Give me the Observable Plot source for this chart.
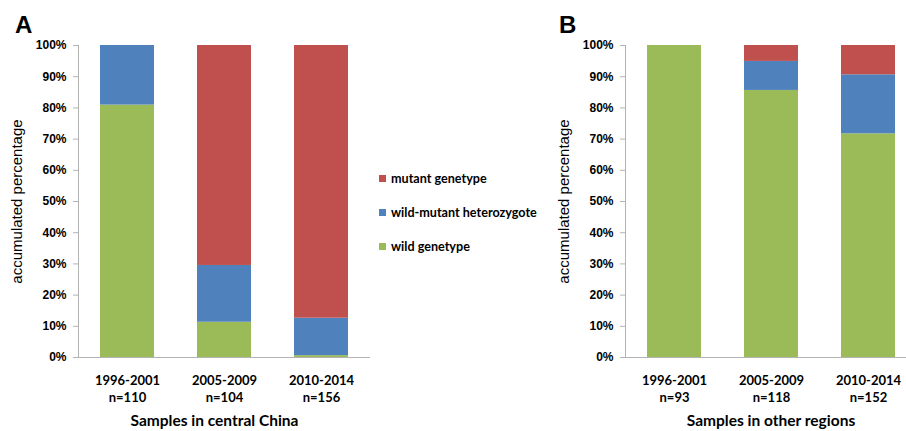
<!DOCTYPE html>
<html>
<head>
<meta charset="utf-8">
<script src="https://cdn.jsdelivr.net/npm/d3@7"></script>
<script src="https://cdn.jsdelivr.net/npm/@observablehq/plot@0.6"></script>
<style>
  html, body { margin: 0; padding: 0; background: #fff; overflow: hidden; }
  #root { position: relative; width: 906px; height: 431px; overflow: hidden; background: #fff; }
  .panel { position: absolute; top: 0; }
  .panel svg { max-width: none !important; }
  .letter { position: absolute; font-family: "Liberation Sans", Arial, sans-serif; font-weight: bold; font-size: 24px; color: #000; line-height: 1; }
  .legend { position: absolute; left: 379px; top: 0; font-family: Lato, sans-serif; font-weight: bold; font-size: 12.6px; color: #000; }
  .legend .row { position: absolute; white-space: nowrap; display: flex; align-items: center; height: 14px; }
  .legend .sw { width: 7px; height: 7px; margin-right: 5px; }
</style>
</head>
<body>
<div id="root">
  <div id="panelA" class="panel" style="left:0px; width:372px"></div>
  <div id="panelB" class="panel" style="left:540px; width:378px"></div>
  <div class="letter" style="left:15px; top:13px">A</div>
  <div class="letter" style="left:559px; top:13px">B</div>
  <div class="legend" id="legend"></div>
</div>
<script>
const categories = ["1996-2001", "2005-2009", "2010-2014"];
const genotypes = ["wild genetype", "wild-mutant heterozygote", "mutant genetype"];
const colors = ["#9BBB59", "#4F81BD", "#C0504D"];
const yTicks = [0, 10, 20, 30, 40, 50, 60, 70, 80, 90, 100];

// Panel A: central China (percent)
const nA = [110, 104, 156];
const wildA = [80.9, 11.3, 0.6];
const hetA = [19.1, 18.2, 12.0];
const mutA = [0, 70.5, 87.4];
const titleA = "Samples in central China";

// Panel B: other regions (percent)
const nB = [93, 118, 152];
const wildB = [100, 85.6, 71.7];
const hetB = [0, 9.3, 18.9];
const mutB = [0, 5.1, 9.4];
const titleB = "Samples in other regions";

function rows(wild, het, mut) {
  const out = [];
  categories.forEach((c, i) => {
    out.push({cat: c, g: genotypes[0], v: wild[i]});
    out.push({cat: c, g: genotypes[1], v: het[i]});
    out.push({cat: c, g: genotypes[2], v: mut[i]});
  });
  return out;
}

function panel(data, ns, title, width, marginLeft, marginRight, titleDx) {
  const labels = categories.map((c, i) => ({cat: c, t: c + "\nn=" + ns[i]}));
  return Plot.plot({
    width, height: 431,
    marginLeft, marginRight, marginTop: 45, marginBottom: 74,
    style: {background: "transparent", overflow: "visible", maxWidth: "none"},
    x: {domain: categories, paddingInner: 0.44, paddingOuter: 0.22, axis: null},
    y: {domain: [0, 100], axis: null},
    color: {domain: genotypes, range: colors},
    marks: [
      Plot.barY(data, {x: "cat", y: "v", fill: "g"}),
      Plot.frame({anchor: "left", stroke: "#b3b3b3"}),
      Plot.ruleY([0], {stroke: "#b3b3b3"}),
      Plot.axisY({
        ticks: yTicks, tickSize: 5, tickPadding: 7, stroke: "#b3b3b3",
        tickFormat: d => d + "%", label: null,
        fontFamily: "Liberation Sans, Arial, sans-serif", fontWeight: "bold", fontSize: 12, fill: "#000"
      }),
      Plot.text(labels, {
        x: "cat", text: "t", frameAnchor: "bottom", lineAnchor: "top", dy: 16,
        lineHeight: 1.27, fontFamily: "Lato, sans-serif", fontWeight: "bold", fontSize: 13, fill: "#000"
      }),
      Plot.text([title], {
        frameAnchor: "bottom", dy: 68, dx: titleDx,
        fontFamily: "Lato, sans-serif", fontWeight: "bold", fontSize: 15.5, fill: "#000"
      }),
      Plot.text(["accumulated percentage"], {
        frameAnchor: "left", textAnchor: "middle", rotate: -90, dx: -61,
        fontFamily: "Liberation Sans, Arial, sans-serif", fontSize: 15, fill: "#000"
      })
    ]
  });
}

document.getElementById("panelA").append(panel(rows(wildA, hetA, mutA), nA, titleA, 372, 78, 2, -10));
document.getElementById("panelB").append(panel(rows(wildB, hetB, mutB), nB, titleB, 378, 85, 0, -1));

// Legend (top to bottom: mutant, heterozygote, wild)
const legend = document.getElementById("legend");
const legendY = [171, 205, 239];
[2, 1, 0].forEach((k, j) => {
  const row = document.createElement("div");
  row.className = "row";
  row.style.top = legendY[j] + "px";
  const sw = document.createElement("span");
  sw.className = "sw";
  sw.style.background = colors[k];
  const tx = document.createElement("span");
  tx.textContent = genotypes[k];
  row.append(sw, tx);
  legend.append(row);
});
</script>
</body>
</html>
